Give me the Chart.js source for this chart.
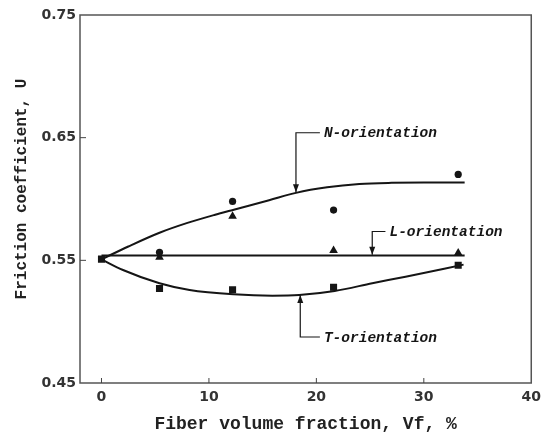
<!DOCTYPE html>
<html>
<head>
<meta charset="utf-8">
<script src="https://cdn.jsdelivr.net/npm/chart.js@4/dist/chart.umd.min.js"></script>
<style>
  html, body { margin: 0; padding: 0; background: #fff; }
  #wrap { width: 547px; height: 435px; }
</style>
</head>
<body>
<div id="wrap"><canvas id="chart-friction"></canvas></div>
<script>
// measured points: fiber volume fraction (%) vs friction coefficient
const vf      = [0, 5.4, 12.2, 21.6, 33.2];
const nOrient = [null, 0.5565, 0.598, 0.591, 0.620];
const lOrient = [null, 0.5525, 0.586, 0.558, 0.556];
const tOrient = [0.551, 0.527, 0.526, 0.528, 0.546];

// fitted curves
const nFitX = [0, 2.5, 5.4, 8, 10.5, 12.4, 15.6, 18.1, 21, 24, 27, 30, 33.8];
const nFitY = [0.5508, 0.5613, 0.5725, 0.5805, 0.587, 0.5915, 0.599, 0.605, 0.6095, 0.6122, 0.6132, 0.6135, 0.6135];
const lFitX = [0, 33.8];
const lFitY = [0.554, 0.554];
const tFitX = [0, 2, 5.4, 8.2, 12.3, 15.9, 18.4, 21.7, 25.2, 28.3, 33.7];
const tFitY = [0.5508, 0.5421, 0.5313, 0.5258, 0.5223, 0.5212, 0.5217, 0.525, 0.5313, 0.5367, 0.5465];

const xTicks = [0, 10, 20, 30, 40];
const yTicks = [0.45, 0.55, 0.65, 0.75];

// call-out labels: stem x, where the arrow touches the curve, elbow height, label start
const callouts = [
  { text: 'N-orientation', x: 18.1, tip: 0.6055, elbow: 0.654,  labelX: 20.7 },
  { text: 'L-orientation', x: 25.2, tip: 0.5545, elbow: 0.5735, labelX: 26.8 },
  { text: 'T-orientation', x: 18.5, tip: 0.5217, elbow: 0.4875, labelX: 20.7 }
];

const pts = (xs, ys) => xs.map((x, i) => ({ x, y: ys[i] })).filter(p => p.y !== null);

const MONO = '"Liberation Mono", "DejaVu Sans Mono", monospace';
const INK = '#151515';

const frameAndNotes = {
  id: 'frameAndNotes',
  afterDraw(chart) {
    const { ctx, chartArea: a, scales: { x, y } } = chart;
    ctx.save();

    // box frame
    ctx.strokeStyle = '#555';
    ctx.lineWidth = 1.5;
    ctx.strokeRect(a.left, a.top, a.right - a.left, a.bottom - a.top);

    // inward tick marks
    ctx.lineWidth = 1;
    ctx.strokeStyle = '#444';
    ctx.beginPath();
    for (const v of xTicks.slice(0, -1)) {
      const px = x.getPixelForValue(v);
      ctx.moveTo(px, a.bottom);
      ctx.lineTo(px, a.bottom - 5);
    }
    for (const v of yTicks.slice(1, -1)) {
      const py = y.getPixelForValue(v);
      ctx.moveTo(a.left, py);
      ctx.lineTo(a.left + 6, py);
    }
    ctx.stroke();

    // y title
    ctx.fillStyle = '#222';
    ctx.font = 'bold 16px ' + MONO;
    ctx.textAlign = 'center';
    ctx.textBaseline = 'middle';
    ctx.translate(22, (a.top + a.bottom) / 2 - 10);
    ctx.rotate(-Math.PI / 2);
    ctx.fillText('Friction coefficient, U', 0, 0);
    ctx.setTransform(1, 0, 0, 1, 0, 0);

    // call-outs
    ctx.strokeStyle = INK;
    ctx.fillStyle = INK;
    ctx.lineWidth = 1.2;
    ctx.font = 'italic bold 14.5px ' + MONO;
    ctx.textAlign = 'left';
    for (const c of callouts) {
      const sx = x.getPixelForValue(c.x);
      const tipY = y.getPixelForValue(c.tip);
      const elbowY = y.getPixelForValue(c.elbow);
      const lx = x.getPixelForValue(c.labelX);
      ctx.beginPath();
      ctx.moveTo(sx, tipY);
      ctx.lineTo(sx, elbowY);
      ctx.lineTo(lx - 4, elbowY);
      ctx.stroke();
      const dir = elbowY < tipY ? -1 : 1; // arrow points toward the curve
      ctx.beginPath();
      ctx.moveTo(sx, tipY);
      ctx.lineTo(sx - 3, tipY + dir * 8);
      ctx.lineTo(sx + 3, tipY + dir * 8);
      ctx.closePath();
      ctx.fill();
      ctx.fillText(c.text, lx, elbowY + 1);
    }
    ctx.restore();
  }
};

new Chart(document.getElementById('chart-friction'), {
  type: 'scatter',
  data: {
    datasets: [
      { label: 'N', data: pts(vf, nOrient), pointStyle: 'circle', pointRadius: 3.6,
        backgroundColor: INK, borderColor: INK, borderWidth: 0 },
      { label: 'L', data: pts(vf, lOrient), pointStyle: 'triangle', pointRadius: 5,
        backgroundColor: INK, borderColor: INK, borderWidth: 0 },
      { label: 'T', data: pts(vf, tOrient), pointStyle: 'rect', pointRadius: 5,
        backgroundColor: INK, borderColor: INK, borderWidth: 0 },
      { label: 'N fit', data: pts(nFitX, nFitY), showLine: true, pointRadius: 0,
        borderColor: INK, borderWidth: 2, cubicInterpolationMode: 'monotone' },
      { label: 'L fit', data: pts(lFitX, lFitY), showLine: true, pointRadius: 0,
        borderColor: INK, borderWidth: 2 },
      { label: 'T fit', data: pts(tFitX, tFitY), showLine: true, pointRadius: 0,
        borderColor: INK, borderWidth: 2, cubicInterpolationMode: 'monotone' }
    ]
  },
  options: {
    responsive: true,
    maintainAspectRatio: false,
    animation: false,
    layout: { padding: { top: 15, right: 14, left: 0, bottom: 0 } },
    plugins: { legend: { display: false }, tooltip: { enabled: false } },
    scales: {
      x: {
        type: 'linear', min: -2, max: 40,
        afterBuildTicks: s => { s.ticks = xTicks.map(v => ({ value: v })); },
        afterFit: s => { s.height = 52; },
        grid: { display: false, drawTicks: false },
        border: { display: false },
        ticks: { padding: 6, color: '#333', font: { family: '"DejaVu Sans", sans-serif', size: 14, weight: 'bold' } },
        title: { display: true, text: 'Fiber volume fraction, Vf, %', color: '#222',
                 padding: { top: 0, bottom: 0 }, font: { family: MONO, size: 18, weight: 'bold' } }
      },
      y: {
        type: 'linear', min: 0.45, max: 0.75,
        afterBuildTicks: s => { s.ticks = yTicks.map(v => ({ value: v })); },
        afterFit: s => { s.width = 80; },
        grid: { display: false, drawTicks: false },
        border: { display: false },
        ticks: { padding: 4, color: '#333', callback: v => v.toFixed(2),
                 font: { family: '"DejaVu Sans", sans-serif', size: 14, weight: 'bold' } }
      }
    }
  },
  plugins: [frameAndNotes]
});
</script>
</body>
</html>
